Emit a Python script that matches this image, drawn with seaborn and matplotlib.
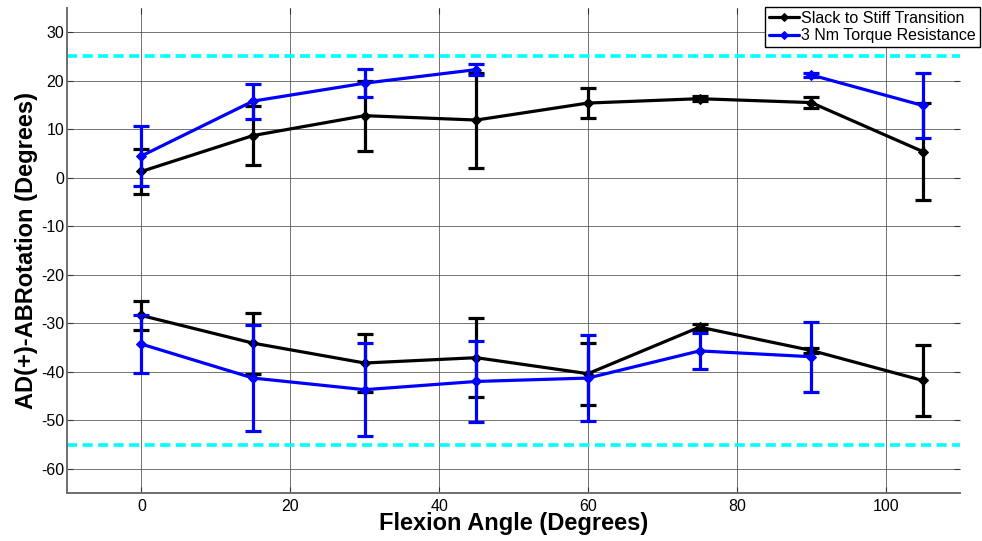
import numpy as np
import pandas as pd
import matplotlib
matplotlib.use("Agg")
import matplotlib.pyplot as plt
import seaborn as sns

# ---- data ----
angles = [0, 15, 30, 45, 60, 75, 90, 105]

slack_upper = [1.3, 8.7, 12.8, 11.9, 15.4, 16.3, 15.5, 5.4]
slack_upper_err = [4.6, 6.1, 7.2, 9.8, 3.1, 0.5, 1.1, 10.0]
torque_upper = [4.5, 15.8, 19.5, 22.3, np.nan, np.nan, 21.2, 14.9]
torque_upper_err = [6.2, 3.6, 2.9, 1.1, np.nan, np.nan, 0.4, 6.7]

slack_lower = [-28.4, -34.1, -38.2, -37.1, -40.4, -30.8, -35.6, -41.8]
slack_lower_err = [2.9, 6.3, 6.0, 8.1, 6.4, 0.6, 0.5, 7.3]
torque_lower = [-34.3, -41.3, -43.7, -42.0, -41.3, -35.7, -36.9, np.nan]
torque_lower_err = [6.0, 11.0, 9.6, 8.3, 8.9, 3.7, 7.2, np.nan]

limit_levels = [25, -55]

series_names = ["Slack to Stiff Transition", "3 Nm Torque Resistance"]
xlabel = "Flexion Angle (Degrees)"
ylabel = "AD(+)-ABRotation (Degrees)"
xticks = [0, 20, 40, 60, 80, 100]
yticks = [30, 20, 10, 0, -10, -20, -30, -40, -50, -60]

# ---- style ----
sns.set_theme(style="white")
plt.rcParams["font.family"] = ["Liberation Sans", "DejaVu Sans"]
plt.rcParams["axes.unicode_minus"] = False
plt.rcParams["text.color"] = "black"
plt.rcParams["axes.labelcolor"] = "black"

fig = plt.figure(figsize=(9.82, 5.41), dpi=100)
ax = fig.add_axes([67 / 982, 1 - 493 / 541, (960 - 67) / 982, (493 - 8) / 541])

colors = {series_names[0]: "#000000", series_names[1]: "#0000FF"}
LW = 2.3


def segments(x, y):
    df = pd.DataFrame({"x": x, "y": y})
    ok = df["y"].notna()
    grp = (ok != ok.shift()).cumsum()
    return [g for _, g in df[ok].groupby(grp[ok])]


def draw(x, y, err, name, first):
    c = colors[name]
    for i, seg in enumerate(segments(x, y)):
        sns.lineplot(data=seg, x="x", y="y", ax=ax, color=c, linewidth=LW,
                     marker="D", markersize=5.5, markeredgecolor=c,
                     markerfacecolor=c, label=name if (first and i == 0) else None,
                     legend=False, zorder=3)
    ax.errorbar(x, y, yerr=err, fmt="none", ecolor=c, elinewidth=LW,
                capsize=5.5, capthick=LW, zorder=3)


draw(angles, slack_upper, slack_upper_err, series_names[0], True)
draw(angles, slack_lower, slack_lower_err, series_names[0], False)
draw(angles, torque_upper, torque_upper_err, series_names[1], True)
draw(angles, torque_lower, torque_lower_err, series_names[1], False)

for lv in limit_levels:
    ax.axhline(lv, color="#00FFFF", linewidth=2.6, linestyle=(0, (2.8, 1.5)), zorder=2)

ax.set_xlim(-10, 110)
ax.set_ylim(-65, 35)
ax.set_xticks(xticks)
ax.set_yticks(yticks)
ax.grid(True, color="#444444", linewidth=0.7, alpha=0.75, zorder=0)
ax.set_axisbelow(True)

for s in ["top", "right"]:
    ax.spines[s].set_visible(False)
for s in ["left", "bottom"]:
    ax.spines[s].set_color("#6e6e6e")
    ax.spines[s].set_linewidth(1.4)

ax.tick_params(axis="both", which="both", direction="in", length=4, width=0.8,
               colors="#333333", labelcolor="black", labelsize=11.5,
               top=True, right=True, bottom=True, left=True)
ax.tick_params(axis="x", pad=4)
ax.tick_params(axis="y", pad=2)

ax.set_xlabel(xlabel, fontsize=17, fontweight="bold", labelpad=-1)
ax.set_ylabel(ylabel, fontsize=17, fontweight="bold", labelpad=2)

handles, labels = ax.get_legend_handles_labels()
leg = ax.legend(handles, labels, loc="upper right",
                bbox_to_anchor=(980 / 982, 1 - 7 / 541),
                bbox_transform=fig.transFigure, fontsize=11.5,
                frameon=True, fancybox=False, edgecolor="black",
                framealpha=1, borderpad=0.25, labelspacing=0.15,
                handlelength=1.9, handletextpad=0.15, borderaxespad=0,
                markerscale=0.7)
leg.get_frame().set_linewidth(1.0)

fig.savefig("out.png", dpi=100)
